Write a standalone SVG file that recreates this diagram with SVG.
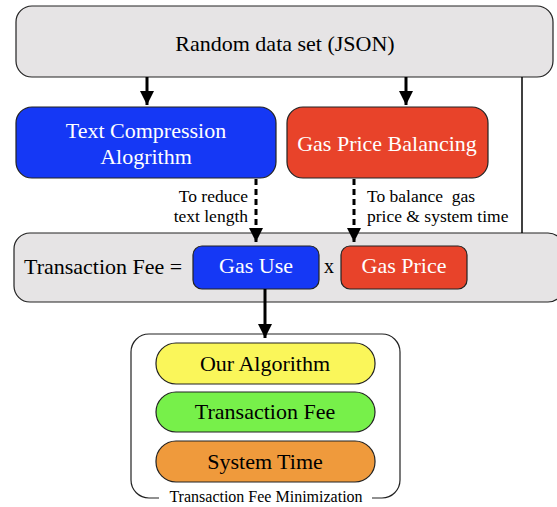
<svg xmlns="http://www.w3.org/2000/svg" width="557" height="507" viewBox="0 0 557 507">
<defs>
<style>
text{font-family:"Liberation Serif","Times New Roman",serif;fill:#000}
.w{fill:#fff}
.box{stroke:#222;stroke-width:1.2}
.gray{fill:#e6e4e5}
.blue{fill:#1538f5}
.red{fill:#e8432a}
.c{text-anchor:middle}
.m{font-size:22px}
.s{font-size:17.5px}
.ln{stroke:#000;stroke-width:3;fill:none}
.dash{stroke:#000;stroke-width:3;fill:none;stroke-dasharray:6,4}
</style>
<marker id="ah2" viewBox="0 0 10 10" refX="10" refY="5" markerWidth="14" markerHeight="14" orient="auto" markerUnits="userSpaceOnUse">
<path d="M0,0 L10,5 L0,10 z" fill="#000"/>
</marker>
</defs>
<g id="random-data">
<rect class="box gray" x="16" y="6" width="537" height="71" rx="16"/>
<text class="c m" x="285" y="51">Random data set (JSON)</text>
</g>
<g id="text-compression">
<rect class="box blue" x="16" y="107" width="260" height="71" rx="16"/>
<text class="c w m" x="146" y="138">Text Compression</text>
<text class="c w m" x="146" y="164">Alogrithm</text>
</g>
<g id="gas-price-balancing">
<rect class="box red" x="287" y="107" width="201" height="71" rx="16"/>
<text class="c w m" x="387" y="151">Gas Price Balancing</text>
</g>
<g id="transaction-fee-eq">
<rect class="box gray" x="14" y="233" width="550" height="69" rx="16"/>
<text class="m" x="24" y="274">Transaction Fee =</text>
<text x="324" y="273" font-size="20">x</text>
</g>
<g id="gas-use">
<rect class="box blue" x="193" y="246" width="126" height="43" rx="9"/>
<text class="c w m" x="256" y="273">Gas Use</text>
</g>
<g id="gas-price">
<rect class="box red" x="341" y="246" width="126" height="43" rx="9"/>
<text class="c w m" x="404" y="273">Gas Price</text>
</g>
<g id="minimization">
<path d="M159,498 H149 A18,18 0 0 1 131,480 V352 A18,18 0 0 1 149,334 H382 A18,18 0 0 1 400,352 V480 A18,18 0 0 1 382,498 H372" fill="none" stroke="#222" stroke-width="1.2"/>
<text class="c" x="266" y="502" font-size="16">Transaction Fee Minimization</text>
</g>
<g id="our-algorithm">
<rect class="box" x="156" y="343" width="219" height="41" rx="20" fill="#faf65a"/>
<text class="c m" x="265" y="371">Our Algorithm</text>
</g>
<g id="transaction-fee">
<rect class="box" x="156" y="392" width="219" height="40" rx="20" fill="#77f04a"/>
<text class="c m" x="265" y="419">Transaction Fee</text>
</g>
<g id="system-time">
<rect class="box" x="156" y="441" width="219" height="41" rx="20" fill="#ef9a3c"/>
<text class="c m" x="265" y="469">System Time</text>
</g>
<g id="connectors">
<line class="ln" x1="147" y1="77" x2="147" y2="105" marker-end="url(#ah2)"/>
<line class="ln" x1="406" y1="77" x2="406" y2="105" marker-end="url(#ah2)"/>
<line x1="522" y1="77" x2="522" y2="233" stroke="#000" stroke-width="1.5"/>
<line class="dash" x1="256" y1="179" x2="256" y2="242" marker-end="url(#ah2)"/>
<line class="dash" x1="354" y1="179" x2="354" y2="242" marker-end="url(#ah2)"/>
<line class="ln" x1="265" y1="289" x2="265" y2="338" marker-end="url(#ah2)"/>
<text class="s" x="248" y="202" text-anchor="end">To reduce</text>
<text class="s" x="248" y="222" text-anchor="end">text length</text>
<text class="s" x="367" y="202" xml:space="preserve">To balance  gas</text>
<text class="s" x="367" y="222">price &amp; system time</text>
</g>
</svg>
